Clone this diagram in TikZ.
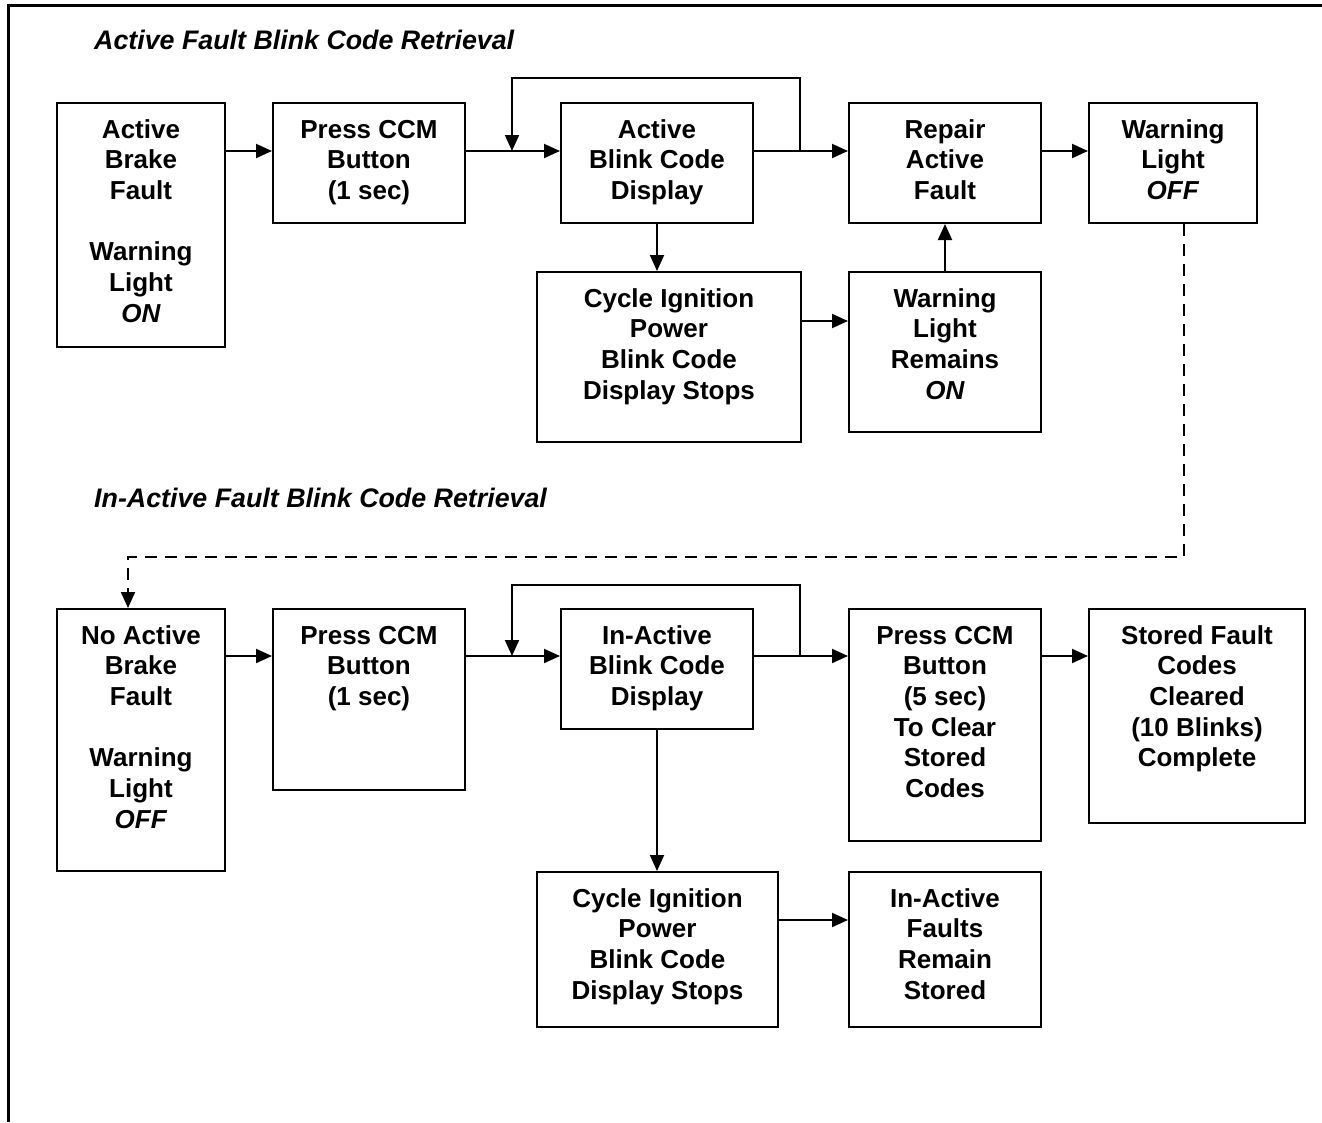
\documentclass[tikz,border=0pt]{standalone}
\usepackage{fontspec}
\setmainfont{Liberation Sans}
\usetikzlibrary{arrows.meta}

% box text, top aligned: width, height, lines
\newcommand{\boxlines}[3]{\parbox[t][#2][t]{#1}{\centering\rule{0pt}{35pt}#3}}

\begin{document}
\begin{tikzpicture}[x=1pt,y=-1pt,
  box/.style={draw,line width=2pt,anchor=north west,inner sep=0pt,
    font=\fontsize{26}{30.7}\selectfont\bfseries},
  flow/.style={line width=2pt,-{Triangle[length=16pt,width=14pt]}},
  title/.style={anchor=base west,inner sep=0pt,
    font=\fontsize{26.8}{31}\selectfont\bfseries\itshape}]
  \useasboundingbox (0,0) rectangle (1322,1122);

  % Draw page frame
  \draw [line width=3pt] (8,1122) -- (8,5) -- (1322,5);

  % Active fault retrieval
  \node [title] (t1) at (94,49) {Active Fault Blink Code Retrieval};
  \node [box] (a1) at (56,102) {\boxlines{168pt}{244pt}{Active\\Brake\\Fault\\[\baselineskip]Warning\\Light\\\textit{ON}}};
  \node [box] (a2) at (272,102) {\boxlines{192pt}{120pt}{Press CCM\\Button\\(1 sec)}};
  \node [box] (a3) at (560,102) {\boxlines{192pt}{120pt}{Active\\Blink Code\\Display}};
  \node [box] (a4) at (848,102) {\boxlines{192pt}{120pt}{Repair\\Active\\Fault}};
  \node [box] (a5) at (1088,102) {\boxlines{168pt}{120pt}{Warning\\Light\\\textit{OFF}}};
  \node [box] (a6) at (536,271) {\boxlines{264pt}{170pt}{Cycle Ignition\\Power\\Blink Code\\Display Stops}};
  \node [box] (a7) at (848,271) {\boxlines{192pt}{160pt}{Warning\\Light\\Remains\\\textit{ON}}};

  % In-active fault retrieval
  \node [title] (t2) at (94,507) {In-Active Fault Blink Code Retrieval};
  \node [box] (b1) at (56,608) {\boxlines{168pt}{262pt}{No Active\\Brake\\Fault\\[\baselineskip]Warning\\Light\\\textit{OFF}}};
  \node [box] (b2) at (272,608) {\boxlines{192pt}{181pt}{Press CCM\\Button\\(1 sec)}};
  \node [box] (b3) at (560,608) {\boxlines{192pt}{120pt}{In-Active\\Blink Code\\Display}};
  \node [box] (b4) at (848,608) {\boxlines{192pt}{232pt}{Press CCM\\Button\\(5 sec)\\To Clear\\Stored\\Codes}};
  \node [box] (b5) at (1088,608) {\boxlines{216pt}{214pt}{Stored Fault\\Codes\\Cleared\\(10 Blinks)\\Complete}};
  \node [box] (b6) at (536,871) {\boxlines{241pt}{155pt}{Cycle Ignition\\Power\\Blink Code\\Display Stops}};
  \node [box] (b7) at (848,871) {\boxlines{192pt}{155pt}{In-Active\\Faults\\Remain\\Stored}};

  % Levels of the arrows
  \coordinate (row1) at (0,151);
  \coordinate (row1b) at (0,321);
  \coordinate (row2) at (0,656);
  \coordinate (row2b) at (0,920);

  % Draw top flow
  \foreach \from/\to in {a1/a2,a2/a3,a3/a4,a4/a5}
    \draw [flow] (\from.east |- row1) -- (\to.west |- row1);
  \coordinate (tap1) at (800,151);
  \coordinate (join1) at (512,151);
  \draw [flow] (tap1) -- ++(0,-73) -| (join1);
  \draw [flow] (a3.south) -- (a3.south |- a6.north);
  \draw [flow] (a6.east |- row1b) -- (a7.west |- row1b);
  \draw [flow] (a7.north) -- (a4.south);

  % Dashed link to second flow
  \coordinate (dash1) at (1184,557);
  \coordinate (dash2) at (128,557);
  \draw [flow,dash pattern=on 12pt off 8pt] (a5.south -| dash1) -- (dash1) -- (dash2) -- (dash2 |- b1.north);

  % Draw bottom flow
  \foreach \from/\to in {b1/b2,b2/b3,b3/b4,b4/b5}
    \draw [flow] (\from.east |- row2) -- (\to.west |- row2);
  \coordinate (tap2) at (800,656);
  \coordinate (join2) at (512,656);
  \draw [flow] (tap2) -- ++(0,-71) -| (join2);
  \draw [flow] (b3.south) -- (b3.south |- b6.north);
  \draw [flow] (b6.east |- row2b) -- (b7.west |- row2b);

\end{tikzpicture}
\end{document}
